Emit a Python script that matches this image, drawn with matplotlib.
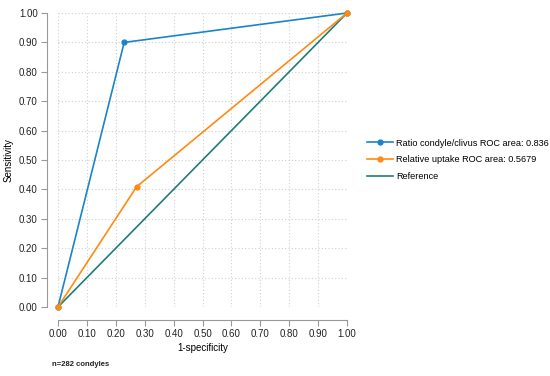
import matplotlib.pyplot as plt

plt.rcParams["font.family"] = ["Liberation Sans", "DejaVu Sans"]

# ROC curve points (1-specificity, sensitivity)
ratio_x = [0.0, 0.229, 1.0]
ratio_y = [0.0, 0.900, 1.0]
uptake_x = [0.0, 0.272, 1.0]
uptake_y = [0.0, 0.409, 1.0]
ref_x = [0.0, 1.0]
ref_y = [0.0, 1.0]
ticks = [i / 10 for i in range(11)]
labels = ["Ratio condyle/clivus ROC area: 0.836",
          "Relative uptake ROC area: 0.5679",
          "Reference"]

blue = "#1b84c6"
orange = "#ff8a12"
green = "#1f7d76"
gray = "#999999"

fig = plt.figure(figsize=(5.5, 3.76), dpi=100)
W, H = 550, 376
ax = fig.add_axes([58 / W, 1 - 307 / H, 289 / W, 294 / H])
ax.set_xlim(0, 1)
ax.set_ylim(0, 1)

ax.plot(ratio_x, ratio_y, color=blue, lw=1.2, marker="o", ms=3.5,
        clip_on=False, label=labels[0], zorder=4)
ax.plot(uptake_x, uptake_y, color=orange, lw=1.2, marker="o", ms=3.5,
        clip_on=False, label=labels[1], zorder=5)
ax.plot(ref_x, ref_y, color=green, lw=1.2, clip_on=False,
        label=labels[2], zorder=3)

ax.set_xticks(ticks)
ax.set_yticks(ticks)
ax.set_xticklabels([f"{t:.2f}" for t in ticks])
ax.set_yticklabels([f"{t:.2f}" for t in ticks])
ax.grid(True, ls=(0, (1, 2)), color="#cfcfcf", lw=0.8)
ax.set_axisbelow(True)

for s in ["top", "right"]:
    ax.spines[s].set_visible(False)
ax.spines["left"].set_position(("outward", 8))
ax.spines["bottom"].set_position(("outward", 9))
for s in ["left", "bottom"]:
    ax.spines[s].set_color(gray)
    ax.spines[s].set_bounds(0, 1)
ax.tick_params(axis="both", colors=gray, labelcolor="#222222",
               labelsize=7, length=4, width=0.8, pad=2.5)

ax.set_xlabel("1-specificity", fontsize=7, labelpad=3)
ax.set_ylabel("Sensitivity", fontsize=7, labelpad=4)

ax.legend(loc="center left", bbox_to_anchor=(1.069, 0.5), frameon=False,
          fontsize=6.6, handlelength=2.8, handletextpad=0.4,
          labelspacing=0.85, borderpad=0, borderaxespad=0)

fig.text(52 / W, 1 - 365 / H, "n=282 condyles", fontsize=5.5,
         fontweight="bold", va="center", color="#222222")

fig.savefig("out.png", dpi=100)
